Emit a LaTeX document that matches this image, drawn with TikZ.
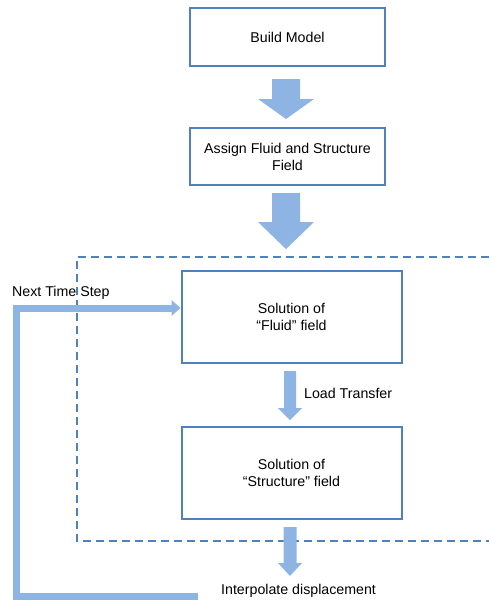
\documentclass[tikz,border=0pt]{standalone}
\usepackage{fontspec}
\setmainfont{Liberation Sans}
\usetikzlibrary{arrows.meta}
\definecolor{boxblue}{RGB}{79,129,189}
\definecolor{arrowblue}{RGB}{141,180,226}
\tikzset{
  stepbox/.style={draw=boxblue, line width=2pt, fill=white, align=center,
    font=\fontsize{14.2}{17}\selectfont, inner sep=0pt},
  lbl/.style={font=\fontsize{14.2}{17}\selectfont, inner sep=0pt},
  blockarrow/.style={fill=arrowblue, draw=none},
  loopline/.style={draw=arrowblue, line width=7pt, line join=miter},
  dashbox/.style={draw=boxblue, line width=2pt, dash pattern=on 8pt off 5pt}
}
% block arrow: center x, top y, head start y, tip y, half shaft, half head
\newcommand{\myblockarrow}[6]{%
  \fill[blockarrow] (#1-#5,#2) -- (#1+#5,#2) -- (#1+#5,#3) -- (#1+#6,#3) -- (#1,#4)
    -- (#1-#6,#3) -- (#1-#5,#3) -- cycle;}
\begin{document}
\begin{tikzpicture}[x=1pt,y=-1pt]
\useasboundingbox (0,0) rectangle (489,602);
% dashed region
\draw[dashbox] (489,257) -- (77,257) -- (77,541) -- (489,541);
% boxes
\node[stepbox, minimum width=195pt, minimum height=58pt] (build) at (287.5,37) {Build Model};
\node[stepbox, minimum width=195pt, minimum height=57pt] (assign) at (287.5,156.5) {Assign Fluid and Structure\\Field};
\node[stepbox, minimum width=220pt, minimum height=92pt] (fluid) at (291.5,317) {Solution of\\“Fluid” field};
\node[stepbox, minimum width=220pt, minimum height=92pt] (struct) at (291.5,473) {Solution of\\“Structure” field};
% block arrows
\myblockarrow{286}{79}{99}{119}{14}{28}
\myblockarrow{286}{193}{222}{249}{14}{28}
\myblockarrow{290}{371}{408}{420}{6}{12}
\myblockarrow{290}{527}{563}{576}{6.5}{12}
% labels
\node[lbl, anchor=west] (load) at (304,393) {Load Transfer};
\node[lbl, anchor=west] (interp) at (221,591) {Interpolate displacement};
\node[lbl, anchor=west] (next) at (12,293) {Next Time Step};
% loop back
\coordinate (loopstart) at (198,596.5);
\coordinate (loopend) at (fluid.west |- 0,308);
\draw[loopline] (loopstart) -- (16,596.5) -- (16,308) -- ([xshift=-8pt]loopend);
\fill[arrowblue] ([xshift=-9pt,yshift=-8pt]loopend) -- (loopend) -- ([xshift=-9pt,yshift=8pt]loopend) -- cycle;
\end{tikzpicture}
\end{document}
